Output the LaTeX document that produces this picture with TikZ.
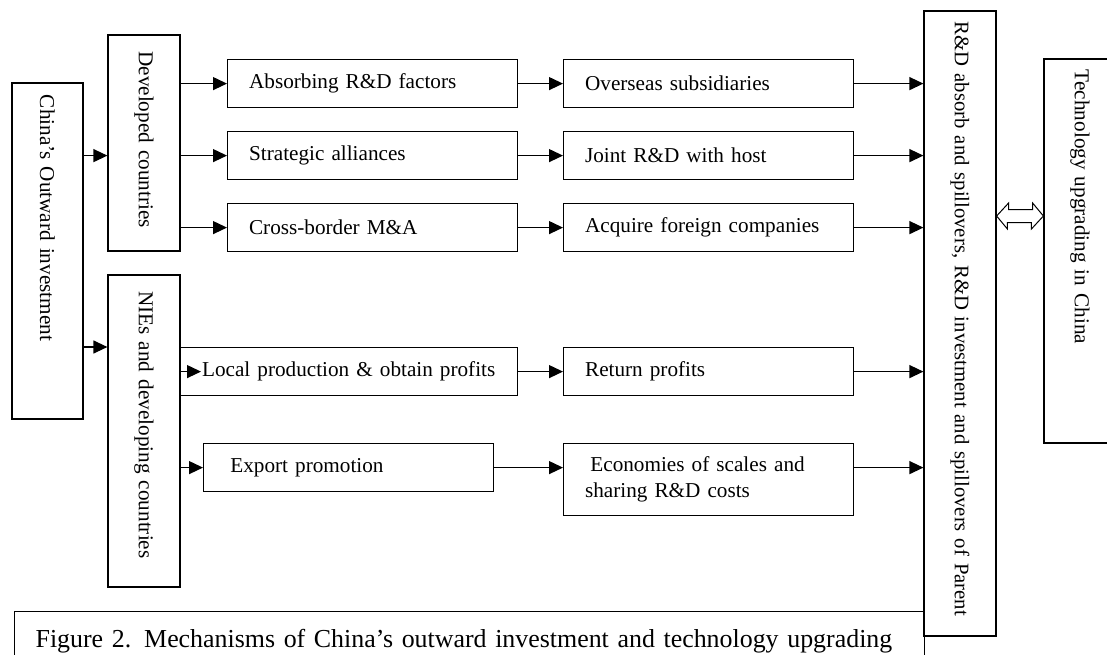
\documentclass[tikz,border=0pt]{standalone}
\usepackage{fontspec}
\setmainfont{Liberation Serif}
\usepackage{tikz}
\usetikzlibrary{arrows.meta,positioning,calc}

\begin{document}
\begin{tikzpicture}[x=1pt,y=-1pt,line width=1.2pt,
  >={Triangle[length=14pt,width=13pt]},
  every node/.style={font=\fontsize{21.2}{26}\selectfont},
  stage/.style={draw,rectangle,anchor=north west,minimum height=48pt,
    inner xsep=21.5pt,inner ysep=3pt,text width=247pt,align=left},
  side/.style={draw,rectangle,rotate=-90,minimum height=72pt,
    inner xsep=11pt,align=left}]
\useasboundingbox (0,0) rectangle (1107,655);
\clip (0,0) rectangle (1107,655);

% Vertical boxes
\node[side,minimum height=71pt,minimum width=336pt,text width=312pt] (china) at (47.5,251) {China’s Outward investment};
\node[side,minimum width=216pt,text width=194pt] (dev) at (144,143) {\hspace*{0.25em}Developed countries};
\node[side,minimum width=312pt,text width=290pt] (nie) at (144,431) {\hspace*{0.25em}NIEs and developing countries};
\node[side,minimum width=625pt,text width=603pt,font=\fontsize{20.7}{26}\selectfont] (rd) at (960,323.5) {\mbox{R\&D absorb and spillovers, R\&D investment and spillovers of Parent}};
\node[side,minimum width=384pt,text width=362pt] (tech) at (1080,251) {Technology upgrading in China};

% Channels
\node[stage] (abs)   at (227,59)  {Absorbing R\&D factors};
\node[stage] (stra)  at (227,131) {Strategic alliances};
\node[stage] (cross) at (227,203) {Cross-border M\&A};
\node[stage,text width=294pt] (loc) at (180,347) {Local production \& obtain profits};
\node[stage] (exp)   at (203,443) {\hspace*{0.25em}Export promotion};

% Effects
\node[stage] (ovs)   at (563,59)  {Overseas subsidiaries};
\node[stage] (joint) at (563,131) {Joint R\&D with host};
\node[stage] (acq)   at (563,203) {Acquire foreign companies};
\node[stage] (ret)   at (563,347) {Return profits};
\node[stage,minimum height=72pt] (econ) at (563,443) {\hspace*{0.25em}Economies of scales and\\sharing R\&D costs};

% Caption
\node[draw,rectangle,anchor=north west,minimum width=910pt,minimum height=60pt,
  inner xsep=21pt,inner ysep=12pt,text width=868pt,align=left,
  font=\fontsize{25.9}{30}\selectfont] (cap) at (14,611)
  {\mbox{Figure 2. Mechanisms of China’s outward investment and technology upgrading}};

% Outward investment by destination
\draw[->] (china.north |- stra.west) -- (dev.south |- stra.west);
\draw[->] (china.north |- loc.north) -- (nie.south |- loc.north);

% Destination to channel
\foreach \b in {abs,stra,cross}
    \draw[->] (dev.north |- \b.west) -- (\b.west);
\coordinate (loctxt) at ($(loc.west)+(21,0)$);
\draw[->] (loc.west) -- (loctxt);
\draw[->] (nie.north |- exp.west) -- (exp.west);

% Channel to effect
\foreach \a/\b in {abs/ovs,stra/joint,cross/acq,loc/ret}
    \draw[->] (\a.east) -- (\b.west);
\draw[->] (exp.east) -- (exp.east -| econ.west);

% Effect to parent
\foreach \b in {ovs,joint,acq,ret}
    \draw[->] (\b.east) -- (\b.east -| rd.south);
\draw[->] (econ.east |- exp.east) -- (rd.south |- exp.east);

% Two-way link with upgrading
\coordinate (dy) at (0,216);
\draw[line width=1pt] (rd.north |- dy) -- ++(12,-13) -- ++(0,6.5) -- ++(24,0) -- ++(0,-6.5)
    -- (tech.south |- dy) -- ++(-12,13) -- ++(0,-6.5) -- ++(-24,0) -- ++(0,6.5) -- cycle;
\end{tikzpicture}
\end{document}
